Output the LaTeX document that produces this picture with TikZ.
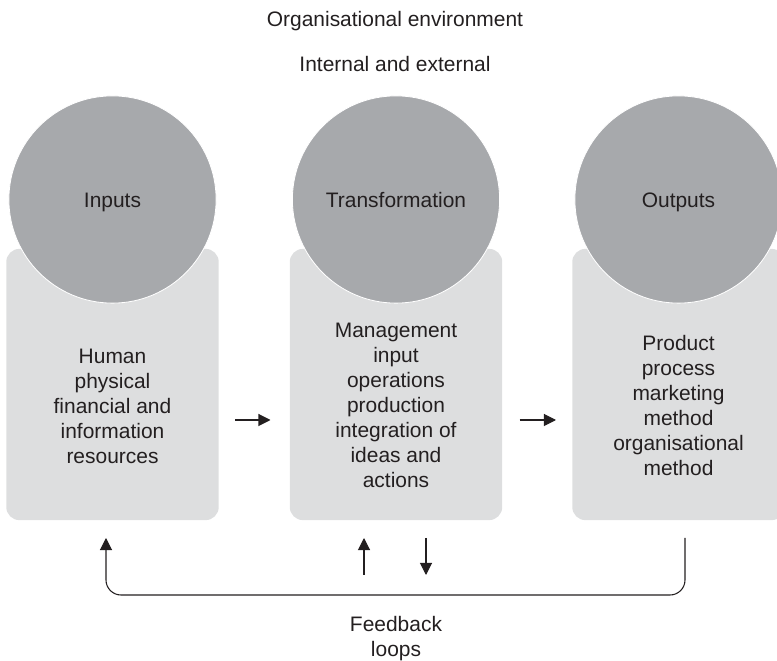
\documentclass[tikz,border=0pt]{standalone}
\usepackage{fontspec}
\setmainfont{Liberation Sans}
\usetikzlibrary{positioning}
\usetikzlibrary{arrows.meta}

\definecolor{ink}{HTML}{231F20}
\definecolor{discgray}{HTML}{A7A9AC}
\definecolor{panelgray}{HTML}{DDDEDF}

\tikzset{
	panel/.style={fill=panelgray, rounded corners=0.33cm, minimum width=5.31cm, minimum height=6.78cm, inner sep=0pt},
	disc/.style={circle, fill=discgray, draw=white, line width=0.6pt, minimum size=5.18cm, inner sep=0pt, text height=10.7pt, text depth=0pt, text=ink},
	paneltext/.style={align=center, anchor=base, text=ink},
	flow/.style={draw=ink, line width=0.75pt, -{Triangle[length=0.3cm,width=0.3cm]}}
}

%one stage: grey panel, disc on top of it, and the panel text
%(#5 is the baseline of the last text line)
\newcommand{\stage}[5]{
	\node[panel] (#1panel) at (#2,384.5) {};
	\node[disc] (#1disc) at (#2,199.5) {#3};
	\node[paneltext] (#1text) at (#2,#5) {#4};
}

\begin{document}
\begin{tikzpicture}[x=0.025cm, y=-0.025cm, font=\fontsize{14.9pt}{17.8pt}\selectfont]
	\useasboundingbox (0,0) rectangle (777,661);

	%headings
	\node[anchor=base, text=ink] (envtitle) at (395,27) {Organisational environment};
	\node[anchor=base, text=ink] (envsub) at (395,72) {Internal and external};

	%the three stages
	\stage{in}{112.5}{Inputs}{Human\\physical\\financial and\\information\\resources}{464}
	\stage{tr}{396}{Transformation}{Management\\input\\operations\\production\\integration of\\ideas and\\actions}{488}
	\stage{out}{678.5}{Outputs}{Product\\process\\marketing\\method\\organisational\\method}{476}

	%flow from stage to stage
	\draw[flow] ([shift={(16,35.5)}]inpanel.east) -- ([shift={(-19,35.5)}]trpanel.west);
	\draw[flow] ([shift={(17,35.5)}]trpanel.east) -- ([shift={(-16,35.5)}]outpanel.west);

	%feedback loop back to the inputs
	\coordinate (fbout) at (685,538);
	\coordinate (fbin) at (106,538);
	\draw[flow, rounded corners=0.375cm] (fbout) -- (685,595) -| (fbin);

	%feedback to and from the transformation
	\coordinate (upfoot) at (364,575);
	\coordinate (uphead) at (364,538);
	\coordinate (downfoot) at (426,538);
	\coordinate (downhead) at (426,575);
	\draw[flow] (upfoot) -- (uphead);
	\draw[flow] (downfoot) -- (downhead);

	\node[paneltext] (fblabel) at (396,657) {Feedback\\loops};
\end{tikzpicture}
\end{document}
